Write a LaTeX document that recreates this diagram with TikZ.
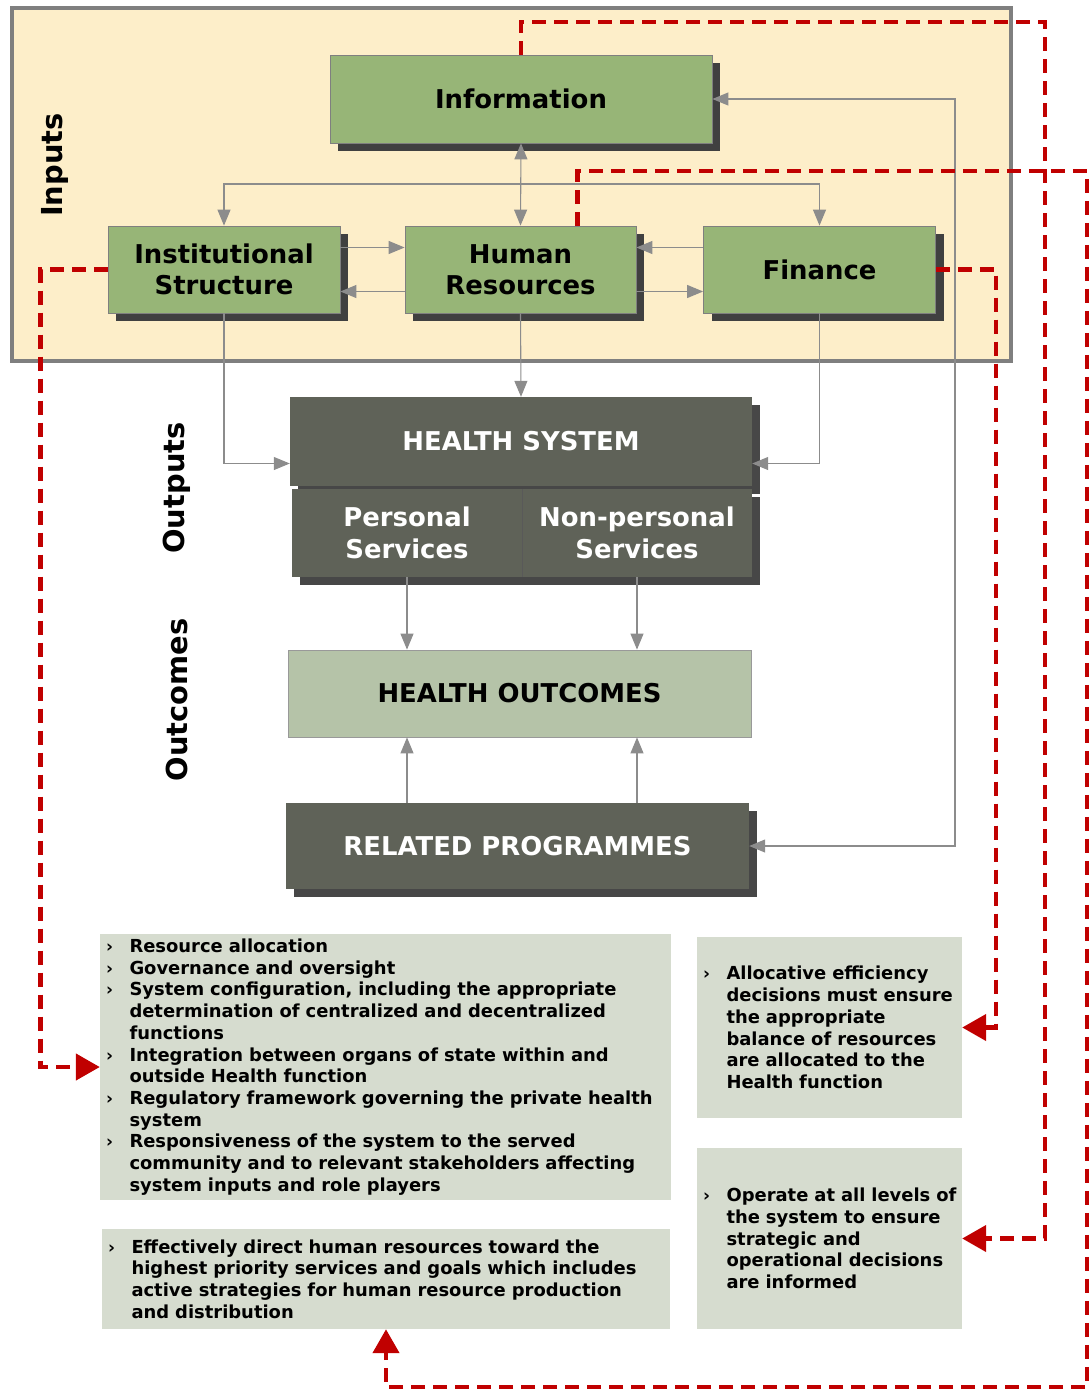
\documentclass[tikz,border=0pt]{standalone}
\usepackage{fontspec}
\setmainfont{DejaVu Sans}
\usetikzlibrary{arrows.meta,shadows}
\definecolor{inputbg}{HTML}{FDEEC9}
\definecolor{framegray}{HTML}{7F7F7F}
\definecolor{boxgreen}{HTML}{97B577}
\definecolor{boxdark}{HTML}{5F6258}
\definecolor{boxpale}{HTML}{B5C3A8}
\definecolor{notegray}{HTML}{D6DCCF}
\definecolor{linkred}{HTML}{C00000}
\definecolor{linkgray}{HTML}{8C8C8C}
\newcommand{\bulitem}{\makebox[23.5bp][l]{\fontsize{17}{17}\selectfont ›}}
\newcommand{\bulcont}{\hspace*{23.5bp}}
\tikzset{
  gtip/.tip={Triangle[length=16bp,width=13bp]},
  rtip/.tip={Triangle[length=24bp,width=26bp]},
  inbox/.style={draw=framegray, fill=boxgreen, line width=0.8bp, minimum width=232bp,
    minimum height=87bp, align=center, inner sep=0pt,
    font=\fontsize{26}{31}\selectfont\bfseries,
    drop shadow={shadow xshift=8bp, shadow yshift=-8bp, fill=black!75, opacity=1}},
  outbox/.style={fill=boxdark, text=white, minimum height=88bp, align=center, inner sep=0pt,
    font=\fontsize{26}{32}\selectfont\bfseries,
    drop shadow={shadow xshift=8bp, shadow yshift=-8bp, fill=black!72, opacity=1}},
  notebox/.style={fill=notegray, align=left, inner xsep=6bp, inner ysep=0pt,
    font=\fontsize{18}{21.8}\selectfont\bfseries},
  sidelabel/.style={rotate=90, font=\fontsize{29}{29}\selectfont\bfseries},
  glink/.style={draw=linkgray, line width=1.1bp, -gtip},
  rlink/.style={draw=linkred, line width=4.5bp, dash pattern=on 14bp off 8bp, -rtip},
}
\begin{document}
\begin{tikzpicture}[line join=miter]
\useasboundingbox (0bp,0bp) rectangle (1089bp,-1389bp);
%%
\node (inputs) at (511.5bp,-184.5bp) [draw=framegray, line width=4bp, fill=inputbg, minimum width=999bp, minimum height=353bp, inner sep=0pt] {};
\node (lblin) at (55bp,-165bp) [sidelabel] {Inputs};
\node (lblout) at (177bp,-488bp) [sidelabel] {Outputs};
\node (lblres) at (177bp,-700bp) [sidelabel] {Outcomes};
%%
\node (info) at (521bp,-99bp) [inbox, minimum width=382bp, minimum height=88bp] {Information};
\node (inst) at (224bp,-269.5bp) [inbox] {Institutional\\Structure};
\node (hr) at (520.5bp,-269.5bp) [inbox, minimum width=231bp] {Human\\Resources};
\node (fin) at (819.5bp,-269.5bp) [inbox] {Finance};
%%
\node (hs) at (521bp,-441.5bp) [outbox, minimum width=462bp, minimum height=89bp] {HEALTH SYSTEM};
\node (ps) at (407bp,-533bp) [outbox, minimum width=230bp] {Personal\\Services};
\node (nps) at (637bp,-533bp) [outbox, minimum width=230bp] {Non-personal\\Services};
\draw[black!65, line width=1.2bp] (ps.north east) -- (ps.south east);
\node (ho) at (519.5bp,-693.5bp) [draw=framegray!80, fill=boxpale, line width=0.8bp, minimum width=463bp, minimum height=87bp, inner sep=0pt, font=\fontsize{26}{31}\selectfont\bfseries] {HEALTH OUTCOMES};
\node (rp) at (517.5bp,-846bp) [outbox, minimum width=463bp, minimum height=86bp] {RELATED PROGRAMMES};
%%
\node (boxA) at (385.5bp,-1067bp) [notebox, text width=559bp, minimum height=266bp] {%
\bulitem Resource allocation\\
\bulitem Governance and oversight\\
\bulitem System configuration, including the appropriate\\
\bulcont determination of centralized and decentralized\\
\bulcont functions\\
\bulitem Integration between organs of state within and\\
\bulcont outside Health function\\
\bulitem Regulatory framework governing the private health\\
\bulcont system\\
\bulitem Responsiveness of the system to the served\\
\bulcont community and to relevant stakeholders affecting\\
\bulcont system inputs and role players};
\node (boxB) at (386bp,-1279bp) [notebox, text width=556bp, minimum height=100bp] {%
\bulitem Effectively direct human resources toward the\\
\bulcont highest priority services and goals which includes\\
\bulcont active strategies for human resource production\\
\bulcont and distribution};
\node (boxC) at (829.5bp,-1027.5bp) [notebox, text width=253bp, minimum height=181bp] {%
\bulitem Allocative efficiency\\
\bulcont decisions must ensure\\
\bulcont the appropriate\\
\bulcont balance of resources\\
\bulcont are allocated to the\\
\bulcont Health function};
\node (boxD) at (829.5bp,-1238.5bp) [notebox, text width=253bp, minimum height=181bp] {%
\bulitem \mbox{Operate at all levels of}\\
\bulcont the system to ensure\\
\bulcont strategic and\\
\bulcont operational decisions\\
\bulcont are informed};
%%
\coordinate (hub) at (520.5bp,-184bp);
\coordinate (rx) at (955bp,-500bp);
\draw[glink] (hub) -| (inst.north);
\draw[glink] (hub) -| (fin.north);
\draw[glink, gtip-gtip] (info.south) -- (hr.north);
\draw[glink] ([yshift=22bp]inst.east) -- ([yshift=22bp]hr.west);
\draw[glink] ([yshift=-22bp]hr.west) -- ([yshift=-22bp]inst.east);
\draw[glink] ([yshift=22bp]fin.west) -- ([yshift=22bp]hr.east);
\draw[glink] ([yshift=-22bp]hr.east) -- ([yshift=-22bp]fin.west);
\draw[glink] (inst.south) |- ([yshift=-22bp]hs.west);
\draw[glink] (fin.south) |- ([yshift=-22bp]hs.east);
\draw[glink] (hr.south) -- (hs.north);
\draw[glink] (ps.south) -- (ps.south |- ho.north);
\draw[glink] (nps.south) -- (nps.south |- ho.north);
\draw[glink] (ps.south |- rp.north) -- (ps.south |- ho.south);
\draw[glink] (nps.south |- rp.north) -- (nps.south |- ho.south);
\draw[glink, gtip-gtip] (info.east) -| (rx) |- (rp.east);
%%
\coordinate (rB) at (1045bp,-22bp);
\coordinate (rC) at (1087bp,-171bp);
\coordinate (rD) at (1087bp,-1387bp);
\draw[rlink] (inst.west) -- ++(-67bp,0bp) |- (boxA.west);
\draw[rlink] (info.north) |- (rB) |- (boxD.east);
\draw[rlink] ([xshift=-59bp]hr.north east) |- (rC) -- (rD) -| (boxB.south);
\draw[rlink] (fin.east) -- ++(60bp,0bp) |- (boxC.east);
%
\end{tikzpicture}
\end{document}
